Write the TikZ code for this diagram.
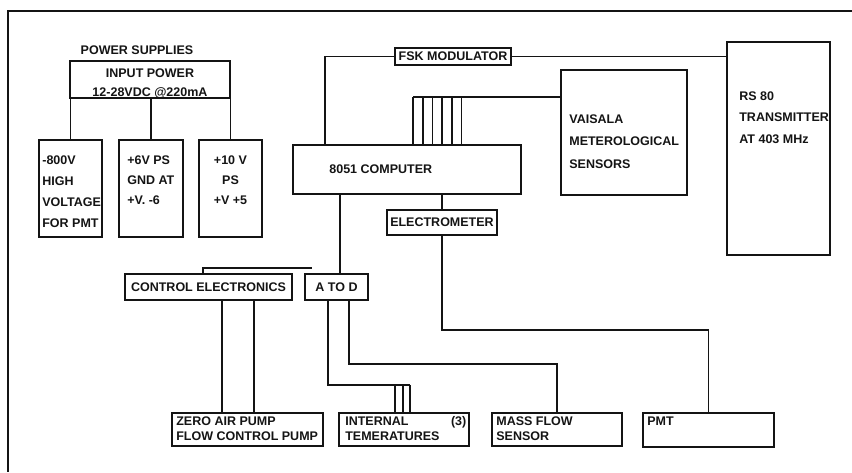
\documentclass[tikz,border=0pt]{standalone}
\usepackage{fontspec}
\setmainfont{Liberation Sans}
\usepackage{xcolor}
\definecolor{cInk}{HTML}{141414}
\usepackage{tikz}
\tikzset{
  node-box/.style={draw=cInk,line width=1.7pt,inner sep=0pt,align=center,
    text=cInk,font=\fontsize{12.5}{15}\selectfont\bfseries},
  node-label/.style={inner sep=0pt,anchor=north west,align=left,text=cInk,
    font=\fontsize{12.5}{#1}\selectfont\bfseries},
  node-label/.default=15,
  wire/.style={draw=cInk,line width=1.6pt},
  frame-line/.style={draw=cInk,line width=1.8pt},
}

\begin{document}
\begin{tikzpicture}[x=1pt,y=-1pt]
  \useasboundingbox (0,0) rectangle (852,472);
  \draw[frame-line] (852,11) -- (8,11) -- (8,472);

  % power supplies
  \node[node-label,anchor=center] (psup) at (137,50) {POWER SUPPLIES};
  \node[node-box,minimum width=160pt,minimum height=37pt] (inpow) at (150,79.5) {};
  \node[node-label=19,anchor=north,align=center] (inpow-t) at (150,68.5)
    {INPUT POWER\\12-28VDC @220mA};
  \node[node-box,minimum width=63pt,minimum height=97pt] (hv) at (70.5,188.5) {};
  \node[node-box,minimum width=64pt,minimum height=97pt] (ps6) at (151,188.5) {};
  \node[node-box,minimum width=63pt,minimum height=97pt] (ps10) at (230.5,188.5) {};
  \node[node-label=21] (hv-t) at ([shift={(4,16.5)}]hv.north west)
    {-800V\\HIGH\\VOLTAGE\\FOR PMT};
  \node[node-label=20] (ps6-t) at ([shift={(9,16.5)}]ps6.north west)
    {+6V PS\\GND AT\\+V. -6};
  \node[node-label=20,anchor=north,align=center] (ps10-t) at ([shift={(0,16.5)}]ps10.north)
    {+10 V\\PS\\+V +5};

  % computer and telemetry
  \node[node-box,minimum width=116pt,minimum height=17pt] (fsk) at (453,56.5) {FSK MODULATOR};
  \node[node-box,minimum width=103pt,minimum height=213pt] (rs) at (778.5,148.5) {};
  \node[node-label=21.5] (rs-t) at ([shift={(13,50)}]rs.north west)
    {RS 80\\TRANSMITTER\\AT 403 MHz};
  \node[node-box,minimum width=126pt,minimum height=125pt] (vai) at (624,132.5) {};
  \node[node-label=22.5] (vai-t) at ([shift={(9,45)}]vai.north west)
    {VAISALA\\METEROLOGICAL\\SENSORS};
  \node[node-box,minimum width=228pt,minimum height=49pt] (cpu) at (407,169.5) {};
  \node[node-label,anchor=west] (cpu-t) at ([xshift=37pt]cpu.west) {8051 COMPUTER};
  \node[node-box,minimum width=110pt,minimum height=25pt] (elec) at (442,222.5) {ELECTROMETER};

  % interfaces and sensors
  \node[node-box,minimum width=167pt,minimum height=26pt] (ctrl) at (208.5,287) {CONTROL ELECTRONICS};
  \node[node-box,minimum width=63pt,minimum height=26pt] (atod) at (336.5,287) {A TO D};
  \node[node-box,minimum width=151pt,minimum height=33pt] (zap) at (247.5,429.5) {};
  \node[node-label] (zap-t) at ([shift={(5,4.5)}]zap.north west)
    {ZERO AIR PUMP\\FLOW CONTROL PUMP};
  \node[node-box,minimum width=130pt,minimum height=33pt] (itemp) at (404,429.5) {};
  \node[node-label,text width=121pt] (itemp-t) at ([shift={(7,4.5)}]itemp.north west)
    {INTERNAL\hfill(3)\\TEMERATURES};
  \node[node-box,minimum width=130pt,minimum height=33pt] (mflow) at (557,429.5) {};
  \node[node-label] (mflow-t) at ([shift={(5,4.5)}]mflow.north west)
    {MASS FLOW\\SENSOR};
  \node[node-box,minimum width=131pt,minimum height=34pt] (pmt) at (708.5,430) {};
  \node[node-label] (pmt-t) at ([shift={(5,5)}]pmt.north west) {PMT};

  \foreach \bx in {hv,ps6,ps10}
    \draw[wire] (\bx.north) -- (\bx.north |- inpow.south);
  \draw[wire] (fsk.west) -| ([xshift=33pt]cpu.north west);
  \draw[wire] (fsk.east) -- (fsk.east -| rs.west);
  \coordinate (bus) at (413,97);
  \draw[wire] (bus) -- (bus -| vai.west);
  \foreach \k in {0,...,5}
    \draw[wire] (bus) ++(9.7*\k,0) coordinate (tap) -- (tap |- cpu.north);
  \draw[wire] (atod.north) ++(3.5,0) coordinate (ad) -- (ad |- cpu.south);
  \draw[wire] (elec.north) -- (elec.north |- cpu.south);
  \draw[wire] (elec.south) -- ++(0,94) -| (pmt.north);
  \coordinate (ctrl-end) at (312,268);
  \draw[wire] (ctrl.north) ++(-5.5,0) |- (ctrl-end);
  \foreach \dx in {13.5,45.5}
    \draw[wire] (ctrl.south) ++(\dx,0) coordinate (cp) -- (cp |- zap.north);
  \draw[wire] (atod.south) ++(-8.5,0) |- ++(82,84) coordinate (tb);
  \foreach \dx in {0,7,15}
    \draw[wire] (tb) ++(-\dx,0) coordinate (tv) -- (tv |- itemp.north);
  \draw[wire] (atod.south) ++(12.5,0) -- ++(0,63) -| (mflow.north);
\end{tikzpicture}
\end{document}
